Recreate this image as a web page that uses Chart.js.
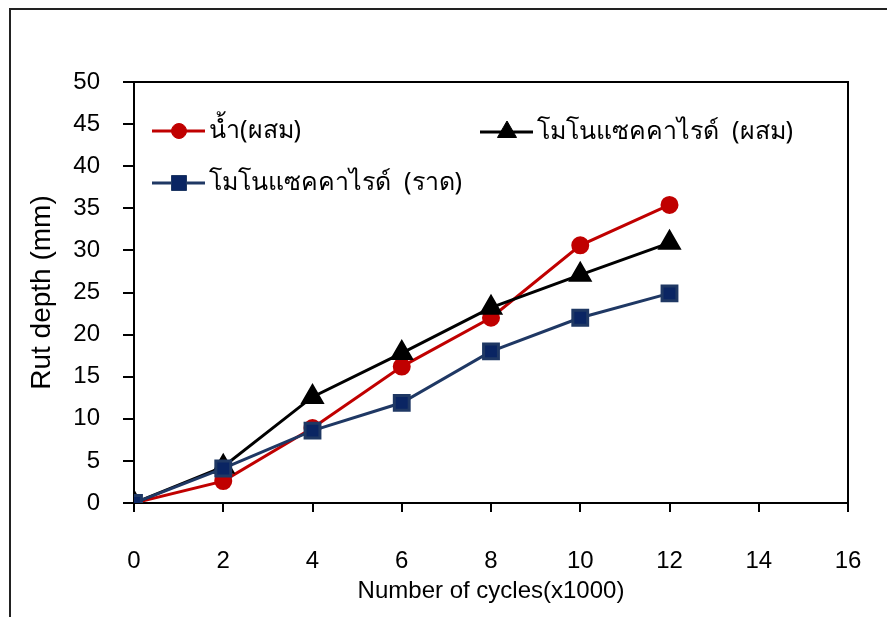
<!DOCTYPE html>
<html>
<head>
<meta charset="utf-8">
<script src="https://cdn.jsdelivr.net/npm/chart.js@4.4.1/dist/chart.umd.min.js"></script>
<style>
  html, body { margin: 0; padding: 0; background: #fff; }
  canvas { display: block; }
</style>
</head>
<body>
<canvas id="rutChart" width="887" height="617"></canvas>
<script>
// Rut depth vs. number of load cycles (x1000)
const cycles = [0, 2, 4, 6, 8, 10, 12];
const waterMix = [0, 2.6, 8.9, 16.2, 22.0, 30.6, 35.4];
const monoMix = [0, 4.3, 12.6, 17.8, 23.2, 27.1, 30.9];
const monoSpray = [0, 4.1, 8.6, 11.9, 18.0, 22.0, 24.9];

const seriesNames = ['น้ำ(ผสม)', 'โมโนแซคคาไรด์  (ผสม)', 'โมโนแซคคาไรด์  (ราด)'];
const xTitle = 'Number of cycles(x1000)';
const yTitle = 'Rut depth (mm)';

const RED = '#c00000';
const NAVY_LINE = '#1f3864';
const NAVY_FILL = '#0a2563';
const numFont = "'Liberation Sans', Arial, sans-serif";
const thaiFont = "'Noto Sans', 'DejaVu Sans', sans-serif";

const toPoints = values => cycles.map((x, i) => ({ x, y: values[i] }));

// outer figure frame + box around plot area
const framePlugin = {
  id: 'frame',
  beforeDraw(chart) {
    const ctx = chart.ctx;
    ctx.save();
    ctx.strokeStyle = '#222';
    ctx.lineWidth = 2;
    ctx.beginPath();
    ctx.moveTo(10, 617);
    ctx.lineTo(10, 9);
    ctx.lineTo(887, 9);
    ctx.stroke();
    ctx.restore();
  },
  afterDatasetsDraw(chart) {
    const { ctx, chartArea: a } = chart;
    ctx.save();
    ctx.strokeStyle = '#000';
    ctx.lineWidth = 2;
    ctx.beginPath();
    ctx.moveTo(a.left - 10, a.top);
    ctx.lineTo(a.right, a.top);
    ctx.lineTo(a.right, a.bottom);
    ctx.stroke();
    ctx.restore();
  },
};

// legend laid out like the original: two items on top row, one below
const legendSlots = [
  { x: 152, y: 131 },
  { x: 480, y: 132 },
  { x: 152, y: 183 },
];

function drawMarker(ctx, style, x, y, fill, stroke) {
  ctx.fillStyle = fill;
  ctx.strokeStyle = stroke;
  ctx.lineWidth = 1;
  ctx.beginPath();
  if (style === 'circle') {
    ctx.arc(x, y, 7.5, 0, Math.PI * 2);
  } else if (style === 'triangle') {
    const r = 11;
    ctx.moveTo(x, y - r);
    ctx.lineTo(x + r * 0.866, y + r / 2);
    ctx.lineTo(x - r * 0.866, y + r / 2);
    ctx.closePath();
  } else {
    ctx.rect(x - 7.5, y - 7.5, 15, 15);
  }
  ctx.fill();
  ctx.stroke();
}

const legendPlugin = {
  id: 'cornerLegend',
  afterDraw(chart) {
    const ctx = chart.ctx;
    ctx.save();
    chart.data.datasets.forEach((ds, i) => {
      const s = legendSlots[i];
      ctx.strokeStyle = ds.borderColor;
      ctx.lineWidth = 3;
      ctx.beginPath();
      ctx.moveTo(s.x, s.y);
      ctx.lineTo(s.x + 53, s.y);
      ctx.stroke();
      drawMarker(ctx, ds.pointStyle, s.x + 27, s.y, ds.pointBackgroundColor, ds.pointBorderColor);
      ctx.fillStyle = '#000';
      ctx.font = `25px ${thaiFont}`;
      ctx.textBaseline = 'middle';
      ctx.textAlign = 'left';
      ctx.fillText(ds.label, s.x + 57, s.y);
    });
    ctx.restore();
  },
};

new Chart(document.getElementById('rutChart'), {
  type: 'line',
  data: {
    datasets: [
      {
        label: seriesNames[0],
        data: toPoints(waterMix),
        borderColor: RED,
        borderWidth: 3,
        pointStyle: 'circle',
        pointRadius: 7.5,
        pointBackgroundColor: RED,
        pointBorderColor: RED,
        order: 3,
      },
      {
        label: seriesNames[1],
        data: toPoints(monoMix),
        borderColor: '#000',
        borderWidth: 3,
        pointStyle: 'triangle',
        pointRadius: 11,
        pointBackgroundColor: '#000',
        pointBorderColor: '#000',
        order: 2,
      },
      {
        label: seriesNames[2],
        data: toPoints(monoSpray),
        borderColor: NAVY_LINE,
        borderWidth: 3,
        pointStyle: 'rect',
        pointRadius: 10.5,
        pointBackgroundColor: NAVY_FILL,
        pointBorderColor: NAVY_LINE,
        order: 1,
      },
    ],
  },
  options: {
    responsive: false,
    animation: false,
    layout: { padding: { left: 0, top: 82, right: 39, bottom: 0 } },
    plugins: {
      legend: { display: false },
      tooltip: { enabled: false },
    },
    elements: { line: { tension: 0 } },
    scales: {
      x: {
        type: 'linear',
        min: 0,
        max: 16,
        afterFit: scale => {
          scale.height = 114;
          scale.paddingLeft = 0;
          scale.paddingRight = 0;
        },
        ticks: {
          stepSize: 2,
          padding: 35,
          color: '#000',
          font: { family: numFont, size: 24 },
        },
        grid: {
          drawOnChartArea: false,
          drawTicks: true,
          tickLength: 9,
          color: '#000',
          lineWidth: 2,
        },
        border: { display: true, color: '#000', width: 2 },
        title: {
          display: true,
          text: xTitle,
          color: '#000',
          font: { family: numFont, size: 24 },
          padding: { top: 0, bottom: 11 },
        },
      },
      y: {
        min: 0,
        max: 50,
        afterFit: scale => { scale.width = 134; },
        ticks: {
          stepSize: 5,
          padding: 23,
          color: '#000',
          font: { family: numFont, size: 24 },
        },
        grid: {
          drawOnChartArea: false,
          drawTicks: true,
          tickLength: 11,
          color: '#000',
          lineWidth: 2,
        },
        border: { display: true, color: '#000', width: 2 },
        title: {
          display: true,
          text: yTitle,
          color: '#000',
          font: { family: numFont, size: 28 },
          padding: { top: 25, bottom: 0 },
        },
      },
    },
  },
  plugins: [framePlugin, legendPlugin],
});
</script>
</body>
</html>
